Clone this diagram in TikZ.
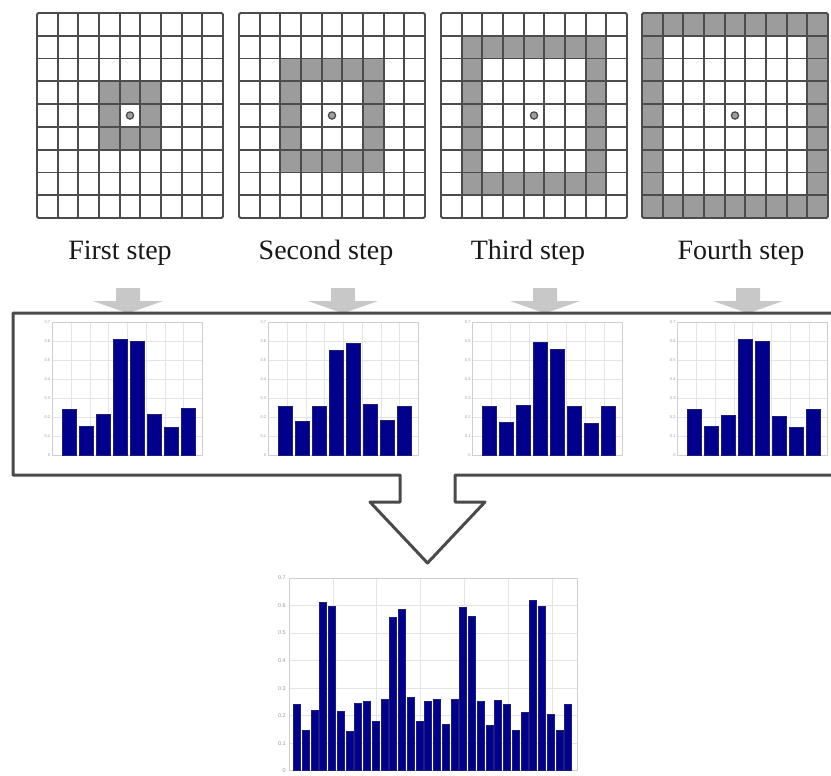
\documentclass[tikz,border=0pt]{standalone}
\usepackage{fontspec}
\setmainfont{Liberation Serif}
\setsansfont{Liberation Sans}
\definecolor{gridln}{HTML}{4C4C4C}
\definecolor{cellfill}{HTML}{9C9C9C}
\definecolor{arrowgray}{HTML}{C8C8C8}
\definecolor{boxln}{HTML}{4A4A4A}
\definecolor{barblue}{RGB}{0,0,140}
\definecolor{baredge}{RGB}{30,30,120}
\definecolor{plotgrid}{HTML}{E4E4E4}
\definecolor{plotframe}{HTML}{CFCFCF}
\definecolor{ticktext}{HTML}{9A9A9A}
\tikzset{
  gridline/.style={draw=gridln, line width=1.8pt},
  ringcell/.style={fill=cellfill},
  steplabel/.style={font=\fontsize{28}{30}\selectfont, text=black!90, anchor=base, inner sep=0pt},
  grayarrow/.style={fill=arrowgray},
  boxline/.style={draw=boxln, line width=3pt, line join=round},
  histbar/.style={fill=barblue, draw=baredge, line width=0.6pt},
  pgrid/.style={draw=plotgrid, line width=0.5pt},
  pframe/.style={draw=plotframe, line width=0.7pt},
  ticklab/.style={font=\sffamily\fontsize{4}{4}\selectfont, text=ticktext, inner sep=0.5pt, anchor=east},
  bigticklab/.style={font=\sffamily\fontsize{5.5}{5.5}\selectfont, text=ticktext, inner sep=0.5pt, anchor=east},
  centerdot/.style={fill=gray!75, draw=black!70, line width=1.3pt}
}
\begin{document}
\begin{tikzpicture}[x=1pt,y=-1pt]
\path[use as bounding box, clip] (0,0) rectangle (831,776);
\fill[white] (0,0) rectangle (831,776);

% ---------- four grids ----------
\def\cw{20.667}
\def\ch{22.78}
\foreach \k/\X in {1/37,2/239,3/441,4/642} {
  \foreach \i in {0,...,8} {
    \foreach \j in {0,...,8} {
      \pgfmathtruncatemacro\dd{max(abs(\i-4),abs(\j-4))}
      \ifnum\dd=\k
        \fill[ringcell] (\X+\i*\cw,13+\j*\ch) rectangle ++(\cw,\ch);
      \fi
    }
  }
  \foreach \i in {1,...,8} {
    \draw[gridline] (\X+\i*\cw,13) -- (\X+\i*\cw,218);
    \draw[gridline] (\X,13+\i*\ch) -- (\X+186,13+\i*\ch);
  }
  \draw[gridline, rounded corners=1.5pt] (\X,13) rectangle (\X+186,218);
  \filldraw[centerdot] (\X+4.5*\cw,13+4.5*\ch) circle (3.6);
}

% ---------- labels ----------
\node[steplabel] (lab1) at (120,259) {First step};
\node[steplabel] (lab2) at (326,259) {Second step};
\node[steplabel] (lab3) at (528,259) {Third step};
\node[steplabel] (lab4) at (741,259) {Fourth step};

% ---------- small gray arrows ----------
\foreach \c in {128,343,545,748} {
  \fill[grayarrow] (\c-12,288) -- (\c+12,288) -- (\c+12,301) -- (\c+35,301)
     -- (\c+1,313) -- (\c-1,313) -- (\c-35,301) -- (\c-12,301) -- cycle;
}

% ---------- small histograms ----------
\foreach \S/\hlist in {
  62.3/{409.3,426.7,414,339,341.7,414,427.3,408.7},
  278.3/{406.7,421.7,406,350,343.3,404,420,406.7},
  482.7/{406,422.7,405,342.7,349.3,406.7,423.3,406.7},
  687.7/{409.3,426.7,415,339,341.7,416,427.3,409.3}} {
  \pgfmathsetmacro\L{\S-10}
  \foreach \m in {1,...,7} {
    \draw[pgrid] (\L+\m*18.75,322) -- (\L+\m*18.75,455);
    \draw[pgrid] (\L,322+\m*19) -- (\L+150,322+\m*19);
  }
  \draw[pframe] (\L,322) rectangle (\L+150,455);
  \foreach \v [count=\q from 0] in {0.7,0.6,0.5,0.4,0.3,0.2,0.1,0} {
    \node[ticklab] at (\L-1.5,322+\q*19) {\v};
  }
  \foreach \t [count=\n from 0] in \hlist {
    \draw[histbar] (\S+\n*17,\t) rectangle (\S+\n*17+14,455);
  }
}

% ---------- frame with big hollow arrow ----------
\draw[boxline] (840,313) -- (13,313) -- (13,475) -- (400,475) -- (400,502)
   -- (370,502) -- (427.5,563) -- (485,502) -- (455,502) -- (455,475) -- (840,475);

% ---------- big histogram ----------
\foreach \gx in {332.8,376.6,420.4,464.2,508,551.8} {
  \draw[pgrid] (\gx,578) -- (\gx,770.7);
}
\foreach \q in {1,...,6} {
  \draw[pgrid] (289,578+\q*27.53) -- (577,578+\q*27.53);
}
\draw[pframe] (289,578) rectangle (577,770.7);
\foreach \v [count=\q from 0] in {0.7,0.6,0.5,0.4,0.3,0.2,0.1,0} {
  \node[bigticklab] at (286.5,578+\q*27.53) {\v};
}
\foreach \z [count=\n from 0] in {432,512,452,128,140,455,515,430,425,485,418,172,148,412,485,425,418,492,418,142,170,425,495,422,432,512,458,122,140,462,512,432} {
  \draw[histbar] (293.3+\n*8.75,560+\z/3) rectangle (293.3+\n*8.75+7,770.7);
}
\end{tikzpicture}
\end{document}
